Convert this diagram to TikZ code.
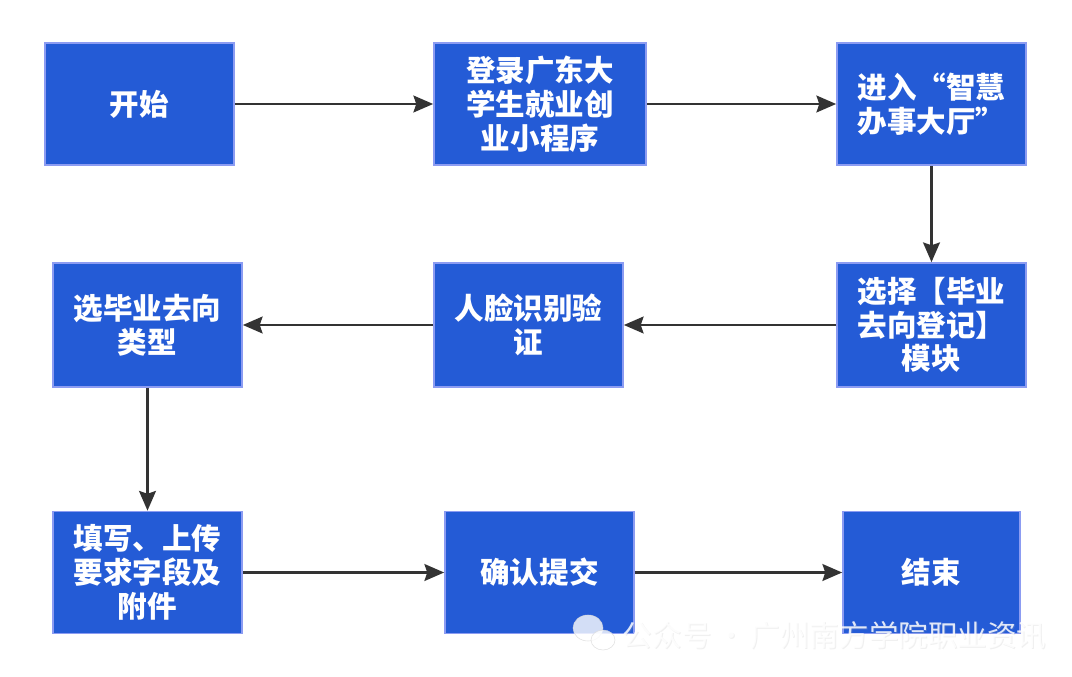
\documentclass[tikz,border=0pt]{standalone}
\usepackage{fontspec}
\setmainfont{Noto Sans CJK SC}
\usetikzlibrary{arrows.meta}
\definecolor{boxblue}{HTML}{245BD6}
\definecolor{boxedge}{HTML}{8C9CF2}
\definecolor{linegray}{HTML}{333333}

\begin{document}
\begin{tikzpicture}[x=0.025cm, y=-0.025cm,
  stepbox/.style={rectangle, fill=boxblue, draw=boxedge, line width=1.2pt, text=white,
    font=\fontsize{21}{24}\selectfont\bfseries, align=center,
    minimum width=4.725cm, minimum height=3.05cm, inner sep=0pt},
  flow/.style={draw=linegray, line width=1.6pt, -{Stealth[length=14pt,width=12pt,inset=2pt]}}
  ]
  \useasboundingbox (0,0) rectangle (1072,677);

  % first row
  \node[stepbox] (start) at (139.5,104) {开始};
  \node[stepbox, minimum width=5.3cm] (login) at (540,104) {登录广东大\\学生就业创\\业小程序};
  \node[stepbox] (hall) at (931.5,104) {进入“智慧\\办事大厅”};

  % second row
  \node[stepbox, minimum height=3.1cm] (module) at (931.5,325) {选择【毕业\\去向登记】\\模块};
  \node[stepbox, minimum height=3.1cm] (face) at (528.5,325) {人脸识别验\\证};
  \node[stepbox, minimum height=3.1cm] (type) at (147.5,325) {选毕业去向\\类型};

  % third row
  \node[stepbox] (fill) at (147.5,572.5) {填写、上传\\要求字段及\\附件};
  \node[stepbox] (submit) at (539.5,572.5) {确认提交};
  \node[stepbox, minimum width=4.425cm] (end) at (931.5,572.5) {结束};

  \draw[flow] (start) -- (login);
  \draw[flow] (login) -- (hall);
  \draw[flow] (hall) -- (module);
  \draw[flow] (module) -- (face);
  \draw[flow] (face) -- (type);
  \draw[flow] (type) -- (fill);
  \draw[flow] (fill) -- (submit);
  \draw[flow] (submit) -- (end);

  % watermark
  \fill[white, opacity=.8, draw=black!15, line width=.4pt] (588,628) ellipse (15 and 13);
  \fill[white, opacity=.8, draw=black!15, line width=.4pt] (603,640) ellipse (12 and 10);
  \node[anchor=west, text=black!30, opacity=.2, font=\fontsize{21}{21}\selectfont] at (619,636) {公众号\,·\,广州南方学院职业资讯};
  \node[anchor=west, text=white, opacity=.85, font=\fontsize{21}{21}\selectfont] (mark) at (618,635) {公众号\,·\,广州南方学院职业资讯};
\end{tikzpicture}
\end{document}
